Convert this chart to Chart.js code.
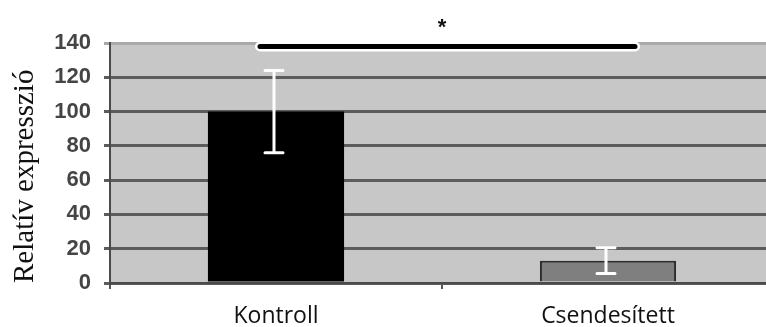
<!DOCTYPE html>
<html>
<head>
<meta charset="utf-8">
<script src="https://cdn.jsdelivr.net/npm/chart.js@4/dist/chart.umd.min.js"></script>
<style>
  html, body { margin: 0; padding: 0; background: #ffffff; overflow: hidden; }
  #wrap { width: 776px; height: 327px; }
</style>
</head>
<body>
<div id="wrap"><canvas id="c" width="776" height="327"></canvas></div>
<script>
// Relative expression, control vs. silenced
const categories = ['Kontroll', 'Csendesített'];
const expression = [100, 13];
const errorSize = [24, 7.5];
const yMin = 0;
const yMax = 140;
const yStep = 20;
const significance = '*';
const bracketLevel = 138;

// plot background panel
const panelBg = {
  id: 'panelBg',
  beforeDraw(chart) {
    const { ctx, chartArea: a } = chart;
    ctx.save();
    ctx.fillStyle = '#c7c7c7';
    ctx.fillRect(a.left, a.top, a.right - a.left, a.bottom - a.top);
    ctx.restore();
  }
};

// white error whiskers on each bar
const errorBars = {
  id: 'errorBars',
  afterDatasetsDraw(chart) {
    const { ctx } = chart;
    const y = chart.scales.y;
    const meta = chart.getDatasetMeta(0);
    ctx.save();
    ctx.strokeStyle = '#ffffff';
    ctx.lineWidth = 3;
    ctx.lineCap = 'round';
    meta.data.forEach((bar, i) => {
      const v = expression[i], e = errorSize[i];
      const x = bar.x - 2;
      const yt = y.getPixelForValue(v + e);
      const yb = y.getPixelForValue(v - e);
      const cap = 9;
      ctx.beginPath();
      ctx.moveTo(x, yt); ctx.lineTo(x, yb);
      ctx.moveTo(x - cap, yt); ctx.lineTo(x + cap, yt);
      ctx.moveTo(x - cap, yb); ctx.lineTo(x + cap, yb);
      ctx.stroke();
    });
    ctx.restore();
  }
};

// significance bracket and star
const sigMark = {
  id: 'sigMark',
  afterDraw(chart) {
    const { ctx } = chart;
    const y = chart.scales.y;
    const meta = chart.getDatasetMeta(0);
    const x0 = meta.data[0].x - 16;
    const x1 = meta.data[1].x + 27;
    const yy = y.getPixelForValue(bracketLevel);
    ctx.save();
    ctx.lineCap = 'round';
    ctx.strokeStyle = '#ffffff';
    ctx.lineWidth = 10;
    ctx.beginPath(); ctx.moveTo(x0, yy); ctx.lineTo(x1, yy); ctx.stroke();
    ctx.strokeStyle = '#000000';
    ctx.lineWidth = 5;
    ctx.beginPath(); ctx.moveTo(x0, yy); ctx.lineTo(x1, yy); ctx.stroke();
    const xm = (meta.data[0].x + meta.data[1].x) / 2;
    ctx.fillStyle = '#111111';
    ctx.font = 'bold 22px "Liberation Sans", Arial, sans-serif';
    ctx.textAlign = 'center';
    ctx.textBaseline = 'middle';
    ctx.fillText(significance, xm, yy - 18);
    ctx.restore();
  }
};

new Chart(document.getElementById('c'), {
  type: 'bar',
  data: {
    labels: categories,
    datasets: [{
      data: expression,
      backgroundColor: ['#000000', '#7f7f7f'],
      borderColor: ['#000000', '#2a2a2a'],
      borderWidth: [0, 2],
      barPercentage: 0.41,
      categoryPercentage: 1.0
    }]
  },
  options: {
    responsive: false,
    animation: false,
    layout: { padding: { top: 43, right: 2, left: 0, bottom: 0 } },
    plugins: { legend: { display: false }, tooltip: { enabled: false } },
    scales: {
      x: {
        offset: true,
        afterFit(axis) { axis.height = 44; },
        grid: {
          offset: true,
          drawOnChartArea: false,
          drawTicks: true,
          tickLength: 6,
          color: '#555555',
          lineWidth: 2
        },
        border: { display: true, color: '#4a4a4a', width: 2 },
        ticks: {
          color: '#111111',
          padding: 14,
          font: { family: '"Open Sans", sans-serif', size: 23 }
        }
      },
      y: {
        min: yMin,
        max: yMax,
        afterFit(axis) { axis.width = 110; },
        grid: {
          color: (c) => (c.tick && c.tick.value === yMax) ? '#a9a9a9' : '#5c5c5c',
          lineWidth: 3,
          tickLength: 6,
          drawTicks: true
        },
        border: { display: true, color: '#4a4a4a', width: 2 },
        ticks: {
          stepSize: yStep,
          color: '#454545',
          padding: 13,
          font: { family: '"Liberation Sans", Arial, sans-serif', size: 22, weight: 'bold' }
        },
        title: {
          display: true,
          text: 'Relatív expresszió',
          align: 'start',
          color: '#111111',
          padding: { top: 8, bottom: 0 },
          font: { family: '"Liberation Serif", "Times New Roman", serif', size: 29 }
        }
      }
    }
  },
  plugins: [panelBg, errorBars, sigMark]
});
</script>
</body>
</html>
